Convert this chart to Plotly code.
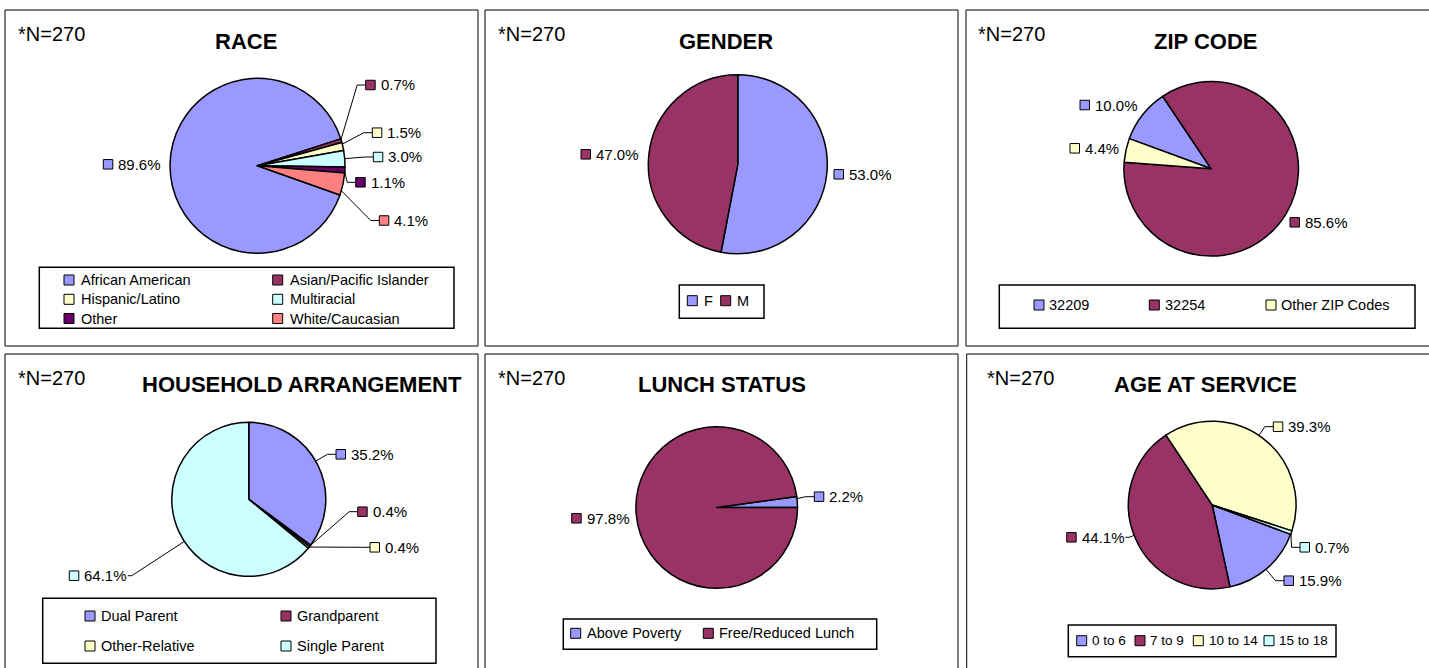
import math
import plotly.graph_objects as go

W, H = 1429, 668

# ------------------------------------------------------------------ data
race_labels = ["African American", "Asian/Pacific Islander", "Hispanic/Latino",
               "Multiracial", "Other", "White/Caucasian"]
race_values = [89.6, 0.7, 1.5, 3.0, 1.1, 4.1]

gender_labels = ["F", "M"]
gender_values = [53.0, 47.0]

zip_labels = ["32209", "32254", "Other ZIP Codes"]
zip_values = [10.0, 85.6, 4.4]

household_labels = ["Dual Parent", "Grandparent", "Other-Relative", "Single Parent"]
household_values = [35.2, 0.4, 0.4, 64.1]

lunch_labels = ["Above Poverty", "Free/Reduced Lunch"]
lunch_values = [2.2, 97.8]

age_labels = ["0 to 6", "7 to 9", "10 to 14", "15 to 18"]
age_values = [15.9, 44.1, 39.3, 0.7]

sample_note = "*N=270"

# ------------------------------------------------------------------ styles
BLUE, PLUM, IVORY, AQUA, PURPLE, CORAL = ("#9999FF", "#993366", "#FFFFCC",
                                          "#CCFFFF", "#660066", "#FF8080")
FONT = "Liberation Sans, Arial, sans-serif"
LABEL_SIZE = 15
LEGEND_SIZE = 14.5


def X(px):
    return px / W


def Y(py):
    return 1 - py / H


CHAR_W = {".": 0.278, "%": 0.889}


def text_width(s, size):
    return sum(CHAR_W.get(c, 0.556) for c in s) * size


# layout of each panel (pixel geometry, not data)
charts = [
    dict(title="RACE", labels=race_labels, values=race_values,
         colors=[BLUE, PLUM, IVORY, AQUA, PURPLE, CORAL],
         panel=(5, 10, 478, 346), title_xy=(246, 41), note_xy=(17, 33.5),
         center=(257.5, 165.8), r=87.5, rotation=109.5,
         label_pos=[(103.3, 164.3, False), (365.7, 85, True), (372.3, 132.7, True),
                    (373.3, 157, True), (355.7, 182.3, True), (379.3, 220.5, True)],
         legend_box=(39.3, 267.3, 454, 328.3),
         legend_pos=[(64, 280), (272.7, 280), (64, 299.3), (272.7, 299.3),
                     (64, 318.5), (272.7, 318.5)], legend_gap=16,
         legend_size=LEGEND_SIZE),
    dict(title="GENDER", labels=gender_labels, values=gender_values,
         colors=[BLUE, PLUM],
         panel=(485, 10, 958, 346), title_xy=(726, 41), note_xy=(497, 33.5),
         center=(737.8, 164.3), r=89.5, rotation=0,
         label_pos=[(834, 174.3, False), (581, 154.3, False)],
         legend_box=(679.3, 285, 764, 318.3),
         legend_pos=[(687.3, 300.7), (720.7, 300.7)], legend_gap=15.3,
         legend_size=LEGEND_SIZE),
    dict(title="ZIP CODE", labels=zip_labels, values=zip_values,
         colors=[BLUE, PLUM, IVORY],
         panel=(966, 10, 1440, 346), title_xy=(1206, 41), note_xy=(977, 33.5),
         center=(1211.2, 168.8), r=87.3, rotation=-69.8,
         label_pos=[(1080, 105, False), (1290, 222.3, False), (1070, 148.3, False)],
         legend_box=(999.3, 285, 1415, 328.3),
         legend_pos=[(1034, 305), (1149.3, 305), (1266, 305)], legend_gap=14.3,
         legend_size=LEGEND_SIZE),
    dict(title="HOUSEHOLD ARRANGEMENT", labels=household_labels, values=household_values,
         colors=[BLUE, PLUM, IVORY, AQUA],
         panel=(5, 354, 478, 680), title_xy=(302, 384.5), note_xy=(17, 377.5),
         center=(248.8, 499.3), r=77, rotation=0,
         label_pos=[(336, 454.3, True), (357.7, 511.7, True), (370, 547.3, True),
                    (69.3, 575.7, True)],
         legend_box=(42.7, 598.3, 436, 663.3),
         legend_pos=[(85, 616), (281, 616), (85, 646), (281, 646)], legend_gap=15,
         legend_size=LEGEND_SIZE),
    dict(title="LUNCH STATUS", labels=lunch_labels, values=lunch_values,
         colors=[BLUE, PLUM],
         panel=(485, 354, 958, 680), title_xy=(722, 384.5), note_xy=(497, 377.5),
         center=(716.7, 507.5), r=80.8, rotation=82.1,
         label_pos=[(814.3, 496.7, True), (571.7, 518.3, False)],
         legend_box=(563.3, 619, 876.7, 649.3),
         legend_pos=[(570.7, 633.3), (703.3, 633.3)], legend_gap=15,
         legend_size=LEGEND_SIZE),
    dict(title="AGE AT SERVICE", labels=age_labels, values=age_values,
         colors=[BLUE, PLUM, IVORY, AQUA],
         panel=(966.7, 354, 1440, 680), title_xy=(1205, 384), note_xy=(986, 377.5),
         center=(1212.2, 505), r=83.8, rotation=110.5,
         label_pos=[(1284, 580.7, True), (1066.7, 537.3, True), (1273.3, 426.7, True),
                    (1300, 547.3, True)],
         legend_box=(1068.3, 625, 1336, 656.7),
         legend_pos=[(1076.7, 640.7), (1135, 640.7), (1193.3, 640.7), (1264, 640.7)],
         legend_gap=14.3, legend_size=13.5),
]

fig = go.Figure()
shapes = []
annotations = []


def rect(x0, y0, x1, y1, fill=None, width=1.0):
    return dict(type="rect", xref="paper", yref="paper",
                x0=X(x0), x1=X(x1), y0=Y(y1), y1=Y(y0),
                line=dict(color="black", width=width),
                fillcolor=fill if fill else "rgba(0,0,0,0)", layer="above")


def text(s, x, y, size, anchor="left", bold=False):
    return dict(text=("<b>%s</b>" % s) if bold else s, x=X(x), y=Y(y),
                xref="paper", yref="paper", xanchor=anchor, yanchor="middle",
                showarrow=False, borderpad=0,
                font=dict(family=FONT, size=size, color="black"))


for ch in charts:
    cx, cy = ch["center"]
    r = ch["r"]
    vals = ch["values"]
    total = float(sum(vals))

    # panel border
    shapes.append(rect(*ch["panel"], width=1))

    fig.add_trace(go.Pie(
        labels=ch["labels"], values=vals, sort=False, direction="clockwise",
        rotation=ch["rotation"], textinfo="none", showlegend=False,
        marker=dict(colors=ch["colors"], line=dict(color="black", width=1.5)),
        domain=dict(x=[X(cx - r), X(cx + r)], y=[Y(cy + r), Y(cy - r)]),
        hovertemplate="%{label}: %{value:.1f}%<extra></extra>",
    ))

    # titles and notes
    annotations.append(text(ch["title"], ch["title_xy"][0], ch["title_xy"][1], 22,
                            anchor="center", bold=True))
    annotations.append(text(sample_note, ch["note_xy"][0], ch["note_xy"][1], 20))

    # slice angle ranges (clockwise degrees from 12 o'clock), derived from values
    start = ch["rotation"]
    ranges = []
    for v in vals:
        span = 360.0 * v / total
        ranges.append((start, start + span))
        start += span

    # data labels with key squares and leader lines
    for (a0, a1), v, col, (sl, ly, leader) in zip(ranges, vals, ch["colors"],
                                                   ch["label_pos"]):
        lbl = "%.1f%%" % v
        tx = sl + 14
        shapes.append(rect(sl, ly - 4.75, sl + 9.5, ly + 4.75, fill=col, width=1))
        annotations.append(text(lbl, tx, ly, LABEL_SIZE))
        if not leader:
            continue
        left_side = sl < cx
        if left_side:
            tend = tx + text_width(lbl, LABEL_SIZE)
            p_start = (tend + 2, ly)
            elbow = (tend + 6, ly)
        else:
            p_start = (sl, ly)
            elbow = (sl - 8.5, ly)
        ang = math.degrees(math.atan2(elbow[0] - cx, -(elbow[1] - cy)))
        # bring angle into slice range (wrap-aware), then clamp
        while ang < a0:
            ang += 360
        while ang >= a0 + 360:
            ang -= 360
        inset = 0.2 * (a1 - a0)
        lo, hi = a0 + inset, a1 - inset
        if ang > hi:
            ang = hi if (ang - hi) < (a0 + 360 - ang) else lo
        ang = max(lo, min(hi, ang))
        rim = (cx + r * math.sin(math.radians(ang)), cy - r * math.cos(math.radians(ang)))
        pts = [p_start, elbow, rim]
        path = "M " + " L ".join("%f,%f" % (X(px), Y(py)) for px, py in pts)
        shapes.append(dict(type="path", xref="paper", yref="paper", path=path,
                           line=dict(color="black", width=1), layer="above"))

    # legend
    shapes.append(rect(*ch["legend_box"], width=1.5))
    for name, col, (sl, ly) in zip(ch["labels"], ch["colors"], ch["legend_pos"]):
        shapes.append(rect(sl, ly - 5, sl + 10, ly + 5, fill=col, width=1))
        annotations.append(text(name, sl + ch["legend_gap"], ly, ch["legend_size"]))

fig.update_layout(
    width=W, height=H, margin=dict(l=0, r=0, t=0, b=0, pad=0),
    paper_bgcolor="white", plot_bgcolor="white", showlegend=False,
    shapes=shapes, annotations=annotations,
    font=dict(family=FONT, color="black"),
)

fig.write_html("out.html", config={"displayModeBar": False},
               post_script="document.body.style.margin='0';"
                           "document.body.style.overflow='hidden';")
